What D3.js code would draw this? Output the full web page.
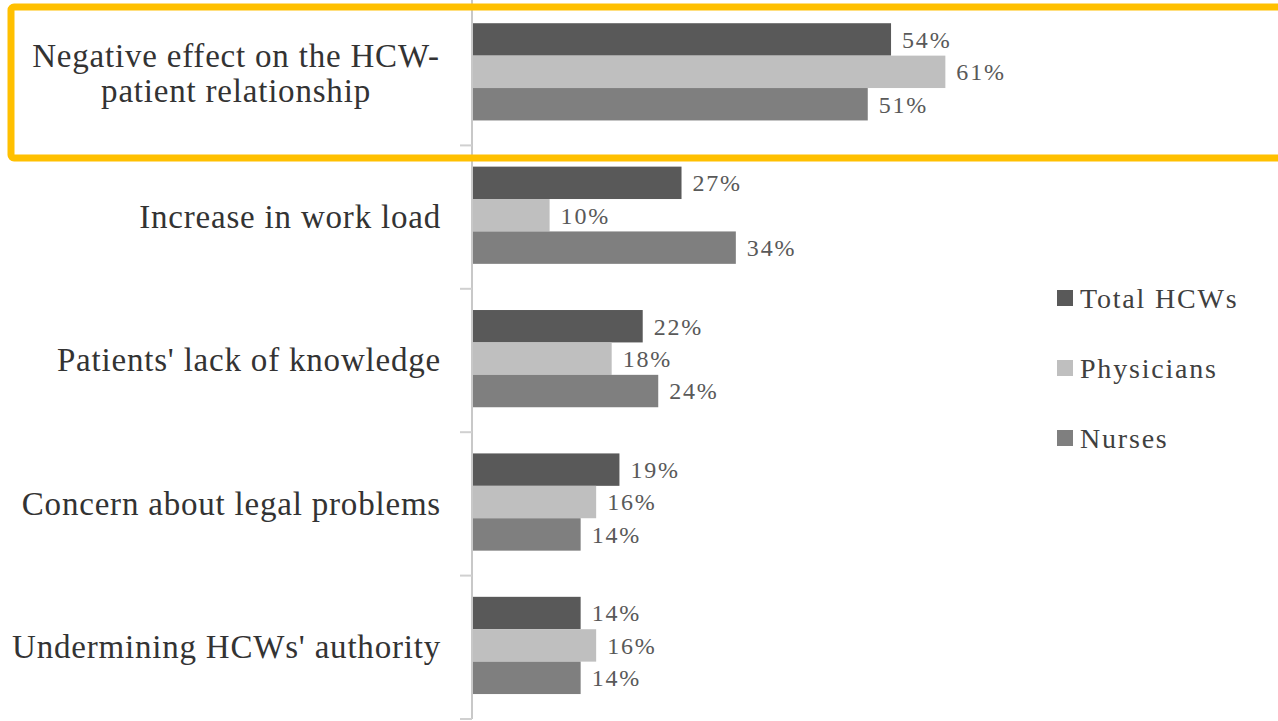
<!DOCTYPE html>
<html>
<head>
<meta charset="utf-8">
<script src="https://cdn.jsdelivr.net/npm/d3@7"></script>
<style>
  body { margin: 0; background: #fff; }
  svg text { font-family: "Liberation Serif", "Times New Roman", serif; }
</style>
</head>
<body>
<svg id="chart" width="1278" height="721"></svg>
<script>
// categories, top to bottom
var categories = [
  ["Negative effect on the HCW-", "patient relationship"],
  ["Increase in work load"],
  ["Patients' lack of knowledge"],
  ["Concern about legal problems"],
  ["Undermining HCWs' authority"]
];
var seriesNames = ["Total HCWs", "Physicians", "Nurses"];
var seriesColors = ["#595959", "#bfbfbf", "#7f7f7f"];
// percent values per series
var totalHCWs  = [54, 27, 22, 19, 14];
var physicians = [61, 10, 18, 16, 16];
var nurses     = [51, 34, 24, 14, 14];

var svg = d3.select("#chart");
var catKeys = categories.map(function(c){ return c.join(" "); });
var values = [totalHCWs, physicians, nurses];

var x = d3.scaleLinear().domain([0, 100]).range([472, 1248]);
var y0 = d3.scaleBand().domain(catKeys).range([2, 719]);
var bw = y0.bandwidth();
var y1 = d3.scaleBand().domain(seriesNames).range([bw * 0.148, bw * 0.826]);

var rows = [];
catKeys.forEach(function(k, i){
  seriesNames.forEach(function(s, j){
    rows.push({cat: k, s: s, j: j, v: values[j][i]});
  });
});

// bars
svg.append("g").selectAll("rect")
  .data(rows).enter().append("rect")
  .attr("x", x(0))
  .attr("y", function(d){ return y0(d.cat) + y1(d.s); })
  .attr("width", function(d){ return x(d.v) - x(0); })
  .attr("height", y1.bandwidth())
  .attr("fill", function(d){ return seriesColors[d.j]; });

// value labels
svg.append("g").selectAll("text")
  .data(rows).enter().append("text")
  .attr("x", function(d){ return x(d.v) + 11; })
  .attr("y", function(d){ return y0(d.cat) + y1(d.s) + y1.bandwidth() / 2; })
  .attr("dy", "0.35em")
  .attr("font-size", 24)
  .attr("letter-spacing", 1.8)
  .attr("fill", "#595959")
  .text(function(d){ return d.v + "%"; });

// axis line + ticks between categories
var ax = svg.append("g");
ax.append("line")
  .attr("x1", x(0)).attr("x2", x(0))
  .attr("y1", 0).attr("y2", 719)
  .attr("stroke", "#c8c8c8").attr("stroke-width", 2);
ax.selectAll("line.tk")
  .data(catKeys).enter().append("line")
  .attr("class", "tk")
  .attr("x1", x(0) - 12).attr("x2", x(0))
  .attr("y1", function(k){ return y0(k) + bw; })
  .attr("y2", function(k){ return y0(k) + bw; })
  .attr("stroke", "#d0d0d0").attr("stroke-width", 2);

// category labels
var labels = svg.append("g").selectAll("text")
  .data(categories).enter().append("text")
  .attr("font-size", 33)
  .attr("letter-spacing", 0.8)
  .attr("fill", "#333")
  .attr("text-anchor", function(c){ return c.length > 1 ? "middle" : "end"; })
  .attr("transform", function(c, i){
    var cy = y0(catKeys[i]) + bw / 2;
    var tx = c.length > 1 ? 236 : 441;
    return "translate(" + tx + "," + (cy - (c.length - 1) * 35 / 2) + ")";
  });
labels.selectAll("tspan")
  .data(function(c){ return c; }).enter().append("tspan")
  .attr("x", 0)
  .attr("y", function(t, i){ return i * 35; })
  .attr("dy", "0.33em")
  .text(function(t){ return t; });

// legend
var lg = svg.append("g").selectAll("g")
  .data(seriesNames).enter().append("g")
  .attr("transform", function(s, i){ return "translate(1057," + (298 + i * 70) + ")"; });
lg.append("rect")
  .attr("x", 0).attr("y", -8).attr("width", 16).attr("height", 16)
  .attr("fill", function(s, i){ return seriesColors[i]; });
lg.append("text")
  .attr("x", 23).attr("dy", "0.35em")
  .attr("font-size", 28)
  .attr("letter-spacing", 1.8)
  .attr("fill", "#404040")
  .text(function(s){ return s; });

// highlight box around first category
svg.append("rect")
  .attr("x", 11).attr("y", 7)
  .attr("width", 1300).attr("height", 151)
  .attr("rx", 3)
  .attr("fill", "none")
  .attr("stroke", "#ffc000")
  .attr("stroke-width", 7);
</script>
</body>
</html>
